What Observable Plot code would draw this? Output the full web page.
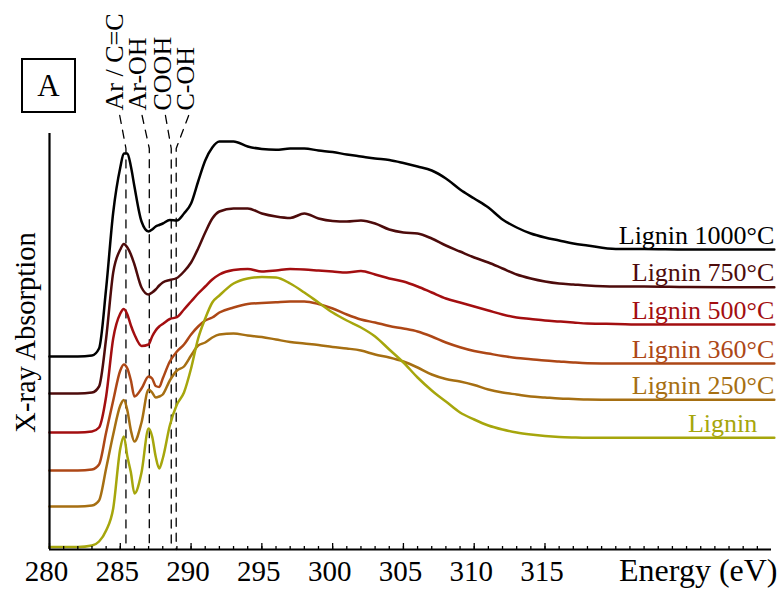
<!DOCTYPE html>
<html><head><meta charset="utf-8">
<script src="https://cdn.jsdelivr.net/npm/d3@7"></script>
<script src="https://cdn.jsdelivr.net/npm/@observablehq/plot@0.6"></script>
<style>
body{margin:0;background:#fff}
#wrap{position:relative;width:782px;height:593px}
.panel{position:absolute;left:21px;top:58px;width:51px;height:51px;border:2px solid #000;
 font:31px "Liberation Serif","Times New Roman",serif;display:flex;align-items:center;justify-content:center;line-height:1}
</style>
</head><body>
<div id="wrap"><div class="panel">A</div></div>
<script>
// Energy grid (eV)
const energy = [280,282,283,283.5,284,284.5,285,285.25,285.5,285.75,
  286,286.5,287,287.25,287.5,287.75,288,288.5,289,289.5,
  290,290.5,291,291.5,292,293,294,295,296,297,
  298,299,300,301,302,303,304,305,306,307,
  308,309,310,311,312,313,314,315,316,317,
  318,320,322,325,328,331.2];

// X-ray absorption (arb. units, vertically offset)
const lignin1000 = [1.93,1.93,1.94,2.01,2.61,3.37,3.82,3.96,3.96,3.83,
  3.63,3.28,3.18,3.20,3.23,3.245,3.26,3.295,3.29,3.36,
  3.46,3.68,3.89,4.02,4.08,4.08,4.03,4.005,3.997,4.01,
  4.01,3.99,3.975,3.95,3.93,3.91,3.895,3.865,3.83,3.79,
  3.71,3.60,3.51,3.42,3.30,3.22,3.16,3.12,3.09,3.06,
  3.04,3.005,3.005,3.00,3.00,3.00];
const lignin750 = [1.56,1.56,1.57,1.63,2.11,2.77,3.00,3.055,3.02,2.95,
  2.85,2.62,2.55,2.57,2.60,2.64,2.67,2.695,2.715,2.78,
  2.87,3.01,3.17,3.31,3.38,3.41,3.41,3.36,3.33,3.315,
  3.36,3.31,3.285,3.28,3.29,3.26,3.20,3.17,3.16,3.11,
  3.04,2.98,2.92,2.87,2.81,2.75,2.71,2.68,2.66,2.65,
  2.64,2.63,2.63,2.625,2.623,2.623];
const lignin500 = [1.17,1.17,1.18,1.22,1.53,2.11,2.36,2.405,2.35,2.24,
  2.15,2.035,2.05,2.13,2.19,2.23,2.255,2.305,2.323,2.40,
  2.48,2.56,2.63,2.70,2.75,2.795,2.805,2.78,2.79,2.805,
  2.80,2.79,2.78,2.77,2.785,2.75,2.71,2.68,2.63,2.57,
  2.51,2.47,2.43,2.39,2.35,2.32,2.305,2.29,2.28,2.27,
  2.26,2.255,2.25,2.25,2.25,2.25];
const lignin360 = [0.79,0.79,0.80,0.85,1.17,1.49,1.79,1.85,1.81,1.69,
  1.53,1.61,1.73,1.71,1.635,1.625,1.71,1.88,1.98,2.05,
  2.15,2.23,2.29,2.32,2.37,2.42,2.455,2.465,2.473,2.48,
  2.48,2.455,2.41,2.35,2.30,2.27,2.235,2.21,2.18,2.13,
  2.07,2.023,1.985,1.96,1.935,1.915,1.903,1.89,1.88,1.87,
  1.863,1.86,1.86,1.86,1.86,1.86];
const lignin250 = [0.43,0.43,0.44,0.49,0.81,1.15,1.44,1.495,1.39,1.19,
  1.08,1.27,1.60,1.57,1.52,1.53,1.55,1.69,1.79,1.83,
  1.94,2.04,2.07,2.12,2.15,2.16,2.14,2.125,2.10,2.075,
  2.06,2.045,2.025,2.01,1.99,1.95,1.92,1.88,1.82,1.75,
  1.705,1.68,1.645,1.60,1.57,1.55,1.53,1.52,1.51,1.505,
  1.50,1.497,1.497,1.497,1.497,1.497];
const ligninRaw = [0.025,0.025,0.04,0.08,0.19,0.41,1.01,1.13,0.93,0.77,
  0.56,0.77,1.21,1.13,0.93,0.81,0.91,1.24,1.45,1.57,
  1.81,2.11,2.31,2.47,2.54,2.66,2.71,2.725,2.72,2.66,
  2.57,2.47,2.37,2.29,2.22,2.13,2.00,1.87,1.72,1.59,
  1.48,1.37,1.30,1.24,1.20,1.17,1.15,1.135,1.125,1.12,
  1.117,1.117,1.117,1.117,1.117,1.117];

const seriesNames = ["Lignin 1000°C","Lignin 750°C","Lignin 500°C","Lignin 360°C","Lignin 250°C","Lignin"];
const seriesValues = [lignin1000, lignin750, lignin500, lignin360, lignin250, ligninRaw];
const seriesColors = ["#000000","#4d0b0b","#a30e10","#ad4716","#a66f12","#a6a60c"];

// Peak assignments
const peakNames = ["Ar / C=C","Ar-OH","COOH","C-OH"];
const peakEnergies = [285.4,287.05,288.6,288.95];
const peakLabelEnergies = [284.6,286.2,287.97,289.6];
const leaderTopEnergies = [284.96,286.54,288.19,289.83];

// Axis ticks
const majorTicks = [280,285,290,295,300,305,310,315];
const minorTicks = d3.range(281,331);

const data = seriesNames.flatMap((s,k)=>energy.map((e,i)=>({energy:e,value:seriesValues[k][i],series:s})));
const ends = seriesNames.map((s,k)=>({energy:energy[energy.length-1],value:seriesValues[k][energy.length-1],series:s}));
const leaders = peakNames.flatMap((n,i)=>[
  {name:n,energy:leaderTopEnergies[i],value:4.34},
  {name:n,energy:peakEnergies[i],value:4.01},
  {name:n,energy:peakEnergies[i],value:0}]);
const peaks = peakNames.map((n,i)=>({name:n,energy:peakLabelEnergies[i]}));

const font = "'Liberation Serif','Times New Roman',serif";
const chart = Plot.plot({
  width:782, height:593,
  marginLeft:49, marginRight:11, marginTop:133, marginBottom:44,
  x:{domain:[280,331], axis:null},
  y:{domain:[0,4.16], axis:null},
  color:{domain:seriesNames, range:seriesColors},
  style:{fontFamily:font, background:"white", color:"black"},
  marks:[
    Plot.line(leaders,{x:"energy",y:"value",z:"name",stroke:"black",strokeWidth:1.3,strokeDasharray:"8,7"}),
    Plot.line(data,{x:"energy",y:"value",z:"series",stroke:"series",strokeWidth:2.5,curve:"monotone-x"}),
    Plot.ruleY([0],{strokeWidth:2.2}),
    Plot.ruleX([280],{strokeWidth:2.2}),
    Plot.tickX(minorTicks,{insetTop:413,strokeWidth:1.3}),
    Plot.tickX(majorTicks,{insetTop:410,strokeWidth:1.3}),
    Plot.text(majorTicks,{x:d=>d,frameAnchor:"bottom",text:d=>String(d),dy:31,dx:-3,lineAnchor:"bottom",fontSize:29}),
    Plot.text(["Energy (eV)"],{frameAnchor:"bottom-right",dx:6,dy:31,textAnchor:"end",lineAnchor:"bottom",fontSize:32}),
    Plot.text(["X-ray Absorption"],{frameAnchor:"left",rotate:-90,dx:-15,dy:-9,lineAnchor:"bottom",textAnchor:"middle",fontSize:28.5}),
    Plot.text(peaks,{x:"energy",y:4.39,text:"name",rotate:-90,textAnchor:"start",lineAnchor:"middle",fontSize:26}),
    Plot.text(ends.filter(d=>d.series!=="Lignin"),{x:"energy",y:"value",text:"series",fill:"series",textAnchor:"end",lineAnchor:"bottom",dy:-6,fontSize:26}),
    Plot.text(ends.filter(d=>d.series==="Lignin"),{x:"energy",y:"value",text:"series",fill:"series",textAnchor:"end",lineAnchor:"bottom",dy:-6,dx:-17,fontSize:26})
  ]
});
document.getElementById("wrap").prepend(chart);
</script>
</body></html>
